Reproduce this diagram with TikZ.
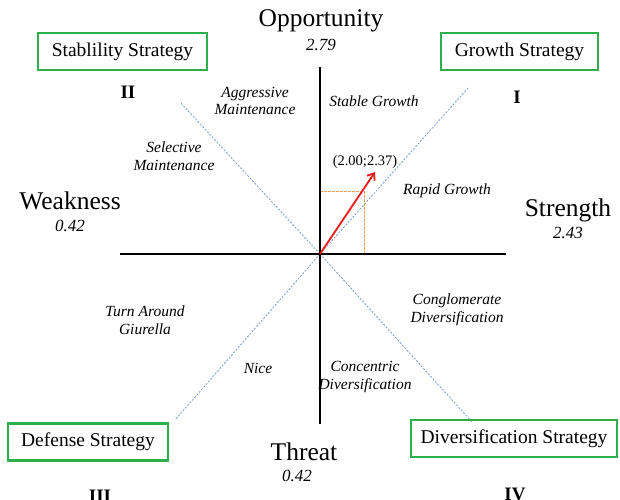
\documentclass[tikz,border=0pt]{standalone}
\usepackage{fontspec}
\setmainfont{Liberation Serif}
\usetikzlibrary{arrows.meta}
\definecolor{boxgreen}{HTML}{2DAF4E}
\definecolor{diagblue}{HTML}{7A9CCB}
\definecolor{dashorange}{HTML}{F59A4A}
\definecolor{arrowred}{HTML}{F01818}
\begin{document}
\begin{tikzpicture}[x=1pt,y=-1pt,
  axisline/.style={line width=2pt, black},
  diagline/.style={diagblue, line width=0.8pt, dash pattern=on 2pt off 1.5pt},
  guideline/.style={dashorange, line width=0.8pt, dash pattern=on 2.5pt off 1.5pt},
  stratbox/.style={draw=boxgreen, line width=2.5pt, minimum height=37pt, inner sep=0pt, font=\fontsize{19.5}{21}\selectfont},
  axislabel/.style={inner sep=0pt, font=\fontsize{25.5}{28}\selectfont},
  axisval/.style={inner sep=0pt, font=\itshape\fontsize{17}{19}\selectfont},
  quadlabel/.style={inner sep=0pt, font=\bfseries\fontsize{19}{20}\selectfont},
  stratlabel/.style={inner sep=0pt, align=center, font=\itshape\fontsize{15.5}{17.5}\selectfont},
  pointlabel/.style={inner sep=0pt, font=\fontsize{14.5}{17}\selectfont}]
\useasboundingbox (0,0) rectangle (620,499);
\fill[white] (0,0) rectangle (620,499);

% coordinates
\coordinate (O) at (320,254);
\coordinate (top) at (320,67);
\coordinate (bottom) at (320,424);
\coordinate (left) at (120,254);
\coordinate (right) at (506,254);
\coordinate (ne) at (468,88);
\coordinate (nw) at (180,102);
\coordinate (sw) at (175,420);
\coordinate (se) at (472,422);
\coordinate (P) at (375,172);
\coordinate (Py) at (320,191);
\coordinate (Pc) at (364,191);
\coordinate (Px) at (364,254);

% diagonals
\draw[diagline] (O) -- (ne);
\draw[diagline] (O) -- (nw);
\draw[diagline] (O) -- (sw);
\draw[diagline] (O) -- (se);

% guides
\draw[guideline] (Py) -- (Pc) -- (Px);

% axes
\draw[axisline] (left) -- (right);
\draw[axisline] (top) -- (bottom);

% vector
\draw[arrowred, line width=1.8pt, -{Straight Barb[length=6pt,width=9pt,line width=1.8pt]}] (O) -- (P);

% axis labels
\node[axislabel] (opp) at (321,21) {Opportunity};
\node[axisval] (oppv) at (321,45) {2.79};
\node[axislabel] (weak) at (70,201) {Weakness};
\node[axisval] (weakv) at (70,226) {0.42};
\node[axislabel] (str) at (568,210) {Strength};
\node[axisval] (strv) at (568,233) {2.43};
\node[axislabel] (thr) at (304,452) {Threat};
\node[axisval] (thrv) at (297,476) {0.42};

% strategy boxes
\node[stratbox, minimum width=169pt] (stab) at (122.5,51.5) {Stablility Strategy};
\node[stratbox, minimum width=157pt] (grow) at (519.5,51.5) {Growth Strategy};
\node[stratbox, minimum width=160pt] (def) at (88,442) {Defense Strategy};
\node[stratbox, minimum width=206pt] (div) at (514,438.5) {Diversification Strategy};

% quadrant numbers
\node[quadlabel] (q2) at (128,92) {II};
\node[quadlabel] (q1) at (517,97) {I};
\node[quadlabel] (q3) at (100,496) {III};
\node[quadlabel] (q4) at (515,494) {IV};

% strategy labels
\node[stratlabel] (aggm) at (255,101) {Aggressive\\Maintenance};
\node[stratlabel] (stg) at (374,101) {Stable Growth};
\node[stratlabel] (selm) at (174,156) {Selective\\Maintenance};
\node[stratlabel] (rpg) at (447,191) {Rapid Growth};
\node[stratlabel] (turn) at (145,320) {Turn Around\\Giurella};
\node[stratlabel] (nice) at (258,368) {Nice};
\node[stratlabel] (conc) at (365,377) {Concentric\\Diversification};
\node[stratlabel] (cong) at (457,310) {Conglomerate\\Diversification};
\node[pointlabel] (pt) at (365,162) {(2.00;2.37)};
\end{tikzpicture}
\end{document}
